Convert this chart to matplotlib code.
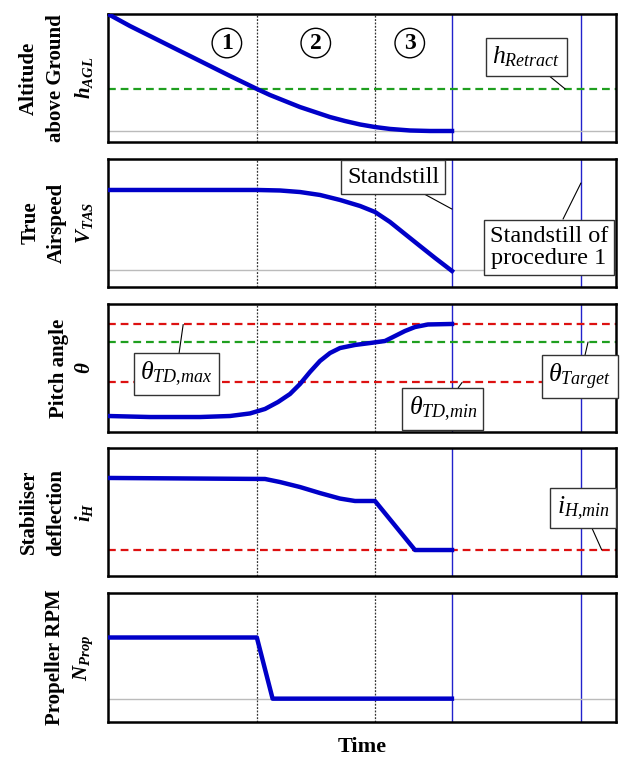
import numpy as np
import matplotlib.pyplot as plt

plt.rcParams['font.family'] = ['Liberation Serif', 'DejaVu Serif']
plt.rcParams['mathtext.fontset'] = 'custom'
plt.rcParams['mathtext.rm'] = 'Liberation Serif'
plt.rcParams['mathtext.it'] = 'Liberation Serif:italic'
plt.rcParams['mathtext.bf'] = 'Liberation Serif:bold'
plt.rcParams['mathtext.bfit'] = 'Liberation Serif:italic:bold'

# time of phase borders (dotted) and standstill events (blue)
t_phase = [2.93, 5.26]
t_stop = [6.77, 9.31]
phase_labels = ['1', '2', '3']
phase_x = [2.34, 4.09, 5.94]

# altitude above ground
t_alt = [0, 0.433, 0.827, 1.220, 1.614, 2.008, 2.402, 2.933, 3.189, 3.484, 3.780,
         4.075, 4.370, 4.665, 4.961, 5.256, 5.551, 5.945, 6.339, 6.772]
alt = [1.0, 0.906, 0.828, 0.750, 0.672, 0.594, 0.516, 0.414, 0.367, 0.320, 0.273,
       0.234, 0.195, 0.164, 0.137, 0.117, 0.102, 0.090, 0.086, 0.086]
h_retract = 0.414
alt_ground = 0.086

# true airspeed
t_tas = [0, 2.933, 3.386, 3.780, 4.173, 4.567, 4.961, 5.256, 5.551, 5.846, 6.142, 6.437, 6.772]
tas = [0.758, 0.758, 0.754, 0.742, 0.719, 0.680, 0.633, 0.586, 0.508, 0.414, 0.320, 0.227, 0.125]
tas_zero = 0.133

# pitch angle
t_pitch = [0, 0.827, 1.811, 2.402, 2.795, 3.091, 3.346, 3.583, 3.780, 3.976, 4.173,
           4.370, 4.567, 4.862, 5.157, 5.453, 5.650, 5.846, 6.043, 6.299, 6.772]
pitch = [0.125, 0.117, 0.117, 0.125, 0.145, 0.180, 0.234, 0.297, 0.375, 0.469, 0.555,
         0.617, 0.656, 0.680, 0.695, 0.711, 0.750, 0.789, 0.820, 0.840, 0.844]
theta_td_upper = 0.84
theta_target = 0.703
theta_td_lower = 0.387

# stabiliser deflection
t_ih = [0, 3.091, 3.386, 3.780, 4.173, 4.567, 4.862, 5.256, 6.043, 6.772]
ih = [0.766, 0.758, 0.734, 0.695, 0.648, 0.605, 0.586, 0.586, 0.203, 0.203]
ih_min = 0.203

# propeller rpm
t_rpm = [0, 2.93, 3.24, 6.77]
rpm = [0.655, 0.655, 0.181, 0.181]
rpm_zero = 0.181

ylabels = ['Altitude\nabove Ground\n$\\mathbfit{h}_{\\mathbfit{AGL}}$',
           'True\nAirspeed\n$\\mathbfit{V}_{\\mathbfit{TAS}}$',
           'Pitch angle\n$\\mathbfit{\\theta}$',
           'Stabiliser\ndeflection\n$\\mathbfit{i}_{\\mathbfit{H}}$',
           'Propeller RPM\n$\\mathbfit{N}_{\\mathbfit{Prop}}$']

W, H = 620, 760
fig = plt.figure(figsize=(W/100, H/100), dpi=100)
rows = [(14, 142), (159, 287), (304, 432), (448, 576), (593, 722)]
axes = []
for top, bot in rows:
    ax = fig.add_axes([108/W, 1 - bot/H, (616-108)/W, (bot-top)/H])
    ax.set_xlim(0, 10)
    ax.set_ylim(0, 1)
    ax.set_xticks([])
    ax.set_yticks([])
    for s in ax.spines.values():
        s.set_linewidth(1.8)
    for t in t_phase:
        ax.axvline(t, color='#333333', ls=(0, (1.5, 1.2)), lw=0.9, zorder=1)
    for t in t_stop:
        ax.axvline(t, color='#2222cc', lw=1.0, zorder=1)
    axes.append(ax)

blue = '#0000c8'
green = '#1f9f1f'
red = '#dd1111'
gray = '#bbbbbb'
dash = (0, (3.5, 2.2))
box = dict(boxstyle='square,pad=0.25', fc='white', ec='#333333', lw=1.0)
lead = dict(arrowstyle='-', color='black', lw=0.8, shrinkA=0, shrinkB=0)

# panel 1
ax = axes[0]
ax.axhline(alt_ground, color=gray, lw=1.0, zorder=1)
ax.axhline(h_retract, color=green, ls=dash, lw=1.6, zorder=2)
ax.plot(t_alt, alt, color=blue, lw=3.2, zorder=3, solid_joinstyle='round')
for x, s in zip(phase_x, phase_labels):
    ax.text(x, 0.773, s, ha='center', va='center', fontsize=17, fontweight='bold',
            bbox=dict(boxstyle='circle,pad=0.18', fc='white', ec='black', lw=1.0))
ax.annotate('$h_{Retract}$', xy=(9.0, h_retract), xytext=(8.23, 0.664), fontsize=18.5,
            ha='center', va='center', bbox=box, arrowprops=lead, zorder=5)

# panel 2
ax = axes[1]
ax.axhline(tas_zero, color=gray, lw=1.0, zorder=1)
ax.plot(t_tas, tas, color=blue, lw=3.2, zorder=3, solid_joinstyle='round')
ax.annotate('Standstill', xy=(t_stop[0], 0.609), xytext=(5.61, 0.859), fontsize=17.5,
            ha='center', va='center', bbox=box, arrowprops=lead, zorder=5)
ax.annotate('Standstill of\nprocedure 1', xy=(t_stop[1], 0.8125), xytext=(8.68, 0.309),
            fontsize=17.5, ha='center', va='center', linespacing=1.1, bbox=box,
            arrowprops=lead, zorder=5)

# panel 3
ax = axes[2]
ax.axhline(theta_td_upper, color=red, ls=dash, lw=1.6, zorder=2)
ax.axhline(theta_target, color=green, ls=dash, lw=1.6, zorder=2)
ax.axhline(theta_td_lower, color=red, ls=dash, lw=1.6, zorder=2)
ax.plot(t_pitch, pitch, color=blue, lw=3.2, zorder=3, solid_joinstyle='round')
ax.annotate('$\\theta_{TD{,}max}$', xy=(1.48, theta_td_upper), xytext=(1.34, 0.453), fontsize=18.5,
            ha='center', va='center', bbox=box, arrowprops=lead, zorder=5)
ax.annotate('$\\theta_{TD{,}min}$', xy=(6.97, theta_td_lower), xytext=(6.59, 0.18), fontsize=18.5,
            ha='center', va='center', bbox=box, arrowprops=lead, zorder=5)
ax.annotate('$\\theta_{Target}$', xy=(9.45, theta_target), xytext=(9.29, 0.43), fontsize=18.5,
            ha='center', va='center', bbox=box, arrowprops=lead, zorder=5)

# panel 4
ax = axes[3]
ax.axhline(ih_min, color=red, ls=dash, lw=1.6, zorder=2)
ax.plot(t_ih, ih, color=blue, lw=3.2, zorder=3, solid_joinstyle='round')
ax.annotate('$i_{H{,}min}$', xy=(9.72, ih_min), xytext=(9.35, 0.531), fontsize=18.5,
            ha='center', va='center', bbox=box, arrowprops=lead, zorder=5)

# panel 5
ax = axes[4]
ax.axhline(rpm_zero, color=gray, lw=1.0, zorder=1)
ax.plot(t_rpm, rpm, color=blue, lw=3.2, zorder=3)
ax.set_xlabel('Time', fontsize=16, fontweight='bold', labelpad=11)

for ax, lab in zip(axes, ylabels):
    ax.set_ylabel(lab, fontsize=15, fontweight='bold', linespacing=1.45)
    ax.yaxis.set_label_coords(-0.025, 0.5)

plt.savefig('out.png', dpi=100)
